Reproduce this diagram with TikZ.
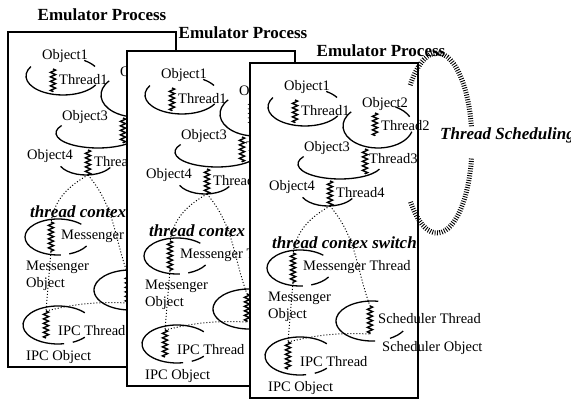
\documentclass[tikz,border=0pt]{standalone}
\usepackage{fontspec}
\setmainfont{Liberation Serif}
\usetikzlibrary{decorations.pathmorphing}

\begin{document}
\begin{tikzpicture}[
    x=1pt, y=1pt,
    panel/.style={draw, fill=white, line width=1.5pt},
    proctitle/.style={font=\fontsize{17}{19}\selectfont\bfseries, inner sep=0pt},
    lbl/.style={font=\fontsize{14.5}{17}\selectfont, inner sep=0pt},
    boldlbl/.style={font=\fontsize{17}{19}\selectfont\bfseries\itshape, inner sep=0pt},
    objarc/.style={line width=1.3pt},
    thread/.style={line width=1.4pt, decorate, decoration={zigzag, segment length=4.5pt, amplitude=2.6pt}},
    ctxswitch/.style={dotted, line width=1pt},
    hatch/.style={line width=5pt, dash pattern=on 0.9pt off 1.5pt}
]
\useasboundingbox (0,0) rectangle (571,-401);

\foreach \i/\px/\py/\tx/\ty in {1/8/32/102/15, 2/127/51/243/33, 3/250/63/381/51} {
  \node[proctitle] (title\i) at (\tx,-\ty) {Emulator Process};
  \begin{scope}[shift={(\px,-\py)}]
    \draw[panel] (0,0) rectangle (168,-335);

    \node[lbl] (p\i-obj1) at (57,-24) {Object1};
    \draw[objarc] (55,-44) ++(150:37pt and 19pt) arc[start angle=150, end angle=332, x radius=37pt, y radius=19pt];
    \draw[objarc] (55,-44) ++(30:37pt and 19pt) arc[start angle=30, end angle=55, x radius=37pt, y radius=19pt];
    \coordinate (p\i-t1a) at (45,-37); \coordinate (p\i-t1b) at (45,-60);
    \draw[thread] (p\i-t1a) -- (p\i-t1b);
    \node[lbl, anchor=west] (p\i-thr1) at (51,-48) {Thread1};

    \node[lbl] (p\i-obj2) at (135,-41) {Object2};
    \draw[objarc] (128,-63) ++(140:35pt and 22pt) arc[start angle=140, end angle=345, x radius=35pt, y radius=22pt];
    \draw[objarc] (128,-63) ++(25:35pt and 22pt) arc[start angle=25, end angle=60, x radius=35pt, y radius=22pt];
    \coordinate (p\i-t2a) at (125,-50); \coordinate (p\i-t2b) at (125,-73);
    \draw[thread] (p\i-t2a) -- (p\i-t2b);
    \node[lbl, anchor=west] (p\i-thr2) at (131,-63) {Thread2};

    \node[lbl] (p\i-obj3) at (77,-85) {Object3};
    \draw[objarc] (90,-101) ++(150:42pt and 15pt) arc[start angle=150, end angle=340, x radius=42pt, y radius=15pt];
    \coordinate (p\i-t3a) at (115,-86); \coordinate (p\i-t3b) at (115,-111);
    \draw[thread] (p\i-t3a) -- (p\i-t3b);
    \node[lbl, anchor=west] (p\i-thr3) at (119,-96) {Thread3};

    \node[lbl] (p\i-obj4) at (42,-124) {Object4};
    \draw[objarc] (78,-128) ++(205:28pt and 15pt) arc[start angle=205, end angle=330, x radius=28pt, y radius=15pt];
    \coordinate (p\i-t4a) at (80,-118); \coordinate (p\i-t4b) at (80,-143);
    \draw[thread] (p\i-t4a) -- (p\i-t4b);
    \node[lbl, anchor=west] (p\i-thr4) at (86,-130) {Thread4};

    \node[boldlbl, anchor=west] (p\i-ctx) at (22,-180) {thread contex switch};

    \draw[objarc] (50,-205) ++(45:33pt and 18pt) arc[start angle=45, end angle=275, x radius=33pt, y radius=18pt];
    \draw[objarc] (50,-205) ++(290:33pt and 18pt) arc[start angle=290, end angle=330, x radius=33pt, y radius=18pt];
    \coordinate (p\i-mta) at (43,-190); \coordinate (p\i-mtb) at (43,-220);
    \draw[thread] (p\i-mta) -- (p\i-mtb);
    \node[lbl, anchor=west] (p\i-mthr) at (53,-204) {Messenger Thread};
    \node[lbl, anchor=north west, align=left] (p\i-mobj) at (18,-229) {Messenger\\Object};

    \draw[objarc] (122,-258) ++(80:36pt and 20pt) arc[start angle=80, end angle=275, x radius=36pt, y radius=20pt];
    \draw[objarc] (122,-258) ++(300:36pt and 20pt) arc[start angle=300, end angle=330, x radius=36pt, y radius=20pt];
    \coordinate (p\i-sta) at (120,-243); \coordinate (p\i-stb) at (120,-271);
    \draw[thread] (p\i-sta) -- (p\i-stb);
    \node[lbl, anchor=west] (p\i-sthr) at (128,-256) {Scheduler Thread};
    \node[lbl, anchor=west] (p\i-sobj) at (132,-285) {Scheduler Object};

    \draw[objarc] (50,-293) ++(40:35pt and 19pt) arc[start angle=40, end angle=280, x radius=35pt, y radius=19pt];
    \draw[objarc] (50,-293) ++(295:35pt and 19pt) arc[start angle=295, end angle=320, x radius=35pt, y radius=19pt];
    \coordinate (p\i-ita) at (38,-279); \coordinate (p\i-itb) at (38,-306);
    \draw[thread] (p\i-ita) -- (p\i-itb);
    \node[lbl, anchor=west] (p\i-ithr) at (50,-299) {IPC Thread};
    \node[lbl, anchor=west] (p\i-iobj) at (18,-325) {IPC Object};

    \draw[ctxswitch] (p\i-t4b) to[out=210, in=80] (p\i-mta);
    \draw[ctxswitch] (p\i-t4b) to[out=-50, in=110] (p\i-sta);
    \draw[ctxswitch] (p\i-mtb) -- (p\i-ita);
    \draw[ctxswitch] (p\i-ita) to[bend left=8] (p\i-stb);
  \end{scope}
}

\node[boldlbl, anchor=west] (sched) at (440,-135) {Thread Scheduling};
\draw[hatch] (437,-143) ++(140:35pt and 90pt) arc[start angle=140, end angle=10, x radius=35pt, y radius=90pt];
\draw[hatch] (437,-143) ++(-10:35pt and 90pt) arc[start angle=-10, end angle=-140, x radius=35pt, y radius=90pt];
\end{tikzpicture}
\end{document}
